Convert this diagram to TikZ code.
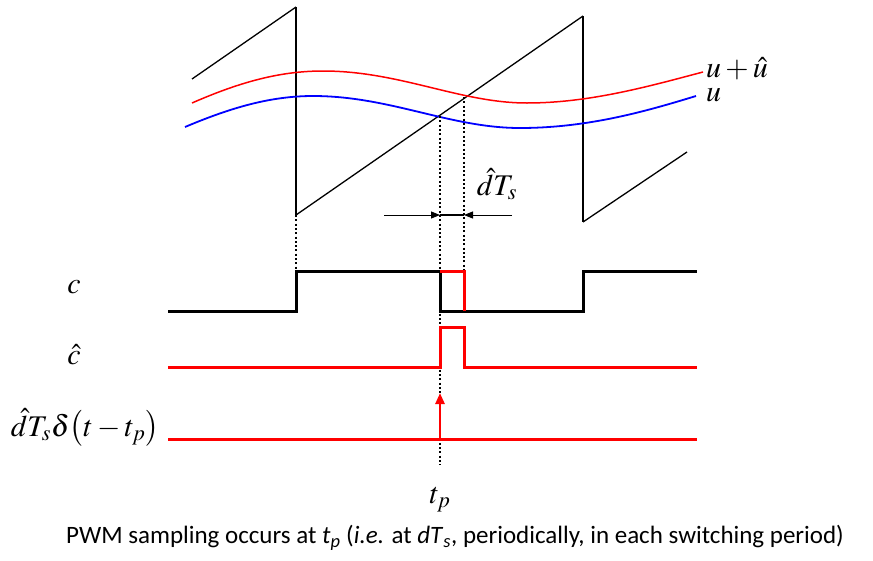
\documentclass[tikz,border=0pt]{standalone}
\usepackage{mathptmx}
\usepackage{fontspec}
\newfontfamily\capfont{Carlito}
\usetikzlibrary{arrows.meta}
\begin{document}
\begin{tikzpicture}[x=1pt, y=-1pt]
  \tikzset{ramp/.style={black, line width=1.3pt},
    drop/.style={black, line width=2.8pt},
    wave/.style={line width=3pt, line join=miter},
    guide/.style={line width=2pt, dash pattern=on 2pt off 2.3pt},
    lbl/.style={font=\fontsize{30}{34}\selectfont, inner sep=0pt}}
  \useasboundingbox (0,0) rectangle (873,560);
  % sampling instants
  \coordinate (t0) at (296,0);
  \coordinate (tp) at (440,0);
  \coordinate (tq) at (464,0);
  \coordinate (t1) at (583,0);
  % sawtooth carrier
  \draw[ramp] (192,79) -- (t0 |- 0,7);
  \draw[drop] (t0 |- 0,7) -- (t0 |- 0,215);
  \draw[ramp] (t0 |- 0,215) -- (t1 |- 0,16);
  \draw[drop] (t1 |- 0,16) -- (t1 |- 0,222);
  \draw[ramp] (t1 |- 0,222) -- (687,152);
  % control signals
  \draw[red, line width=1.5pt] (192,103) .. controls (240,82) and (280,71) .. (323,71)
    .. controls (400,71) and (460,103) .. (527,103)
    .. controls (590,103) and (650,86) .. (703,72);
  \draw[blue, line width=1.8pt] (185,127) .. controls (230,108) and (270,96) .. (313,96)
    .. controls (390,96) and (450,128) .. (520,128)
    .. controls (590,128) and (650,110) .. (696,96);
  \node[lbl, anchor=base west] (uhat) at (706,77) {$u+\hat{u}$};
  \node[lbl, anchor=base west] (u) at (706,101) {$u$};
  % guides
  \draw[guide] (t0 |- 0,215) -- (t0 |- 0,271);
  \draw[guide] (tp |- 0,116) -- (tp |- 0,465);
  \draw[guide] (tq |- 0,97) -- (tq |- 0,271);
  % width of the perturbation
  \coordinate (al) at (384,215);
  \coordinate (ar) at (512,215);
  \draw[line width=0.9pt, -{Triangle[length=9pt, width=7pt]}] (al) -- (tp |- al);
  \draw[line width=0.9pt, -{Triangle[length=9pt, width=7pt]}] (ar) -- (tq |- ar);
  \draw[line width=2.5pt] (tp |- al) -- (tq |- al);
  \node[lbl] (dts) at (497,184) {$\hat{d}T_s$};
  % switching function
  \node[lbl, anchor=base] (clbl) at (74,293) {$c$};
  \draw[wave] (168,311) -| (t0 |- 0,271) -| (tp |- 0,311) -| (t1 |- 0,271) -- (697,271);
  \draw[wave, red] (tp |- 0,271) -| (tq |- 0,311);
  % perturbation of c
  \node[lbl, anchor=base] (chat) at (74,364) {$\hat{c}$};
  \draw[wave, red] (168,367) -| (tp |- 0,327) -| (tq |- 0,367) -- (697,367);
  % impulse
  \node[lbl, anchor=base] (dlt) at (85,436) {$\hat{d}T_s\delta\bigl(t-t_p\bigr)$};
  \draw[wave, red] (168,439) -- (697,439);
  \draw[red, line width=2.5pt, -{Triangle[length=11pt, width=9pt]}] (tp |- 0,439) -- (tp |- 0,393);
  \node[lbl, anchor=base] (tplbl) at (440,503) {$t_p$};
  % caption
  \node[font=\capfont\fontsize{25}{29}\selectfont, inner sep=0pt] (cap) at (455,538)
    {PWM sampling occurs at \textit{t}\textsubscript{\textit{p}} (\textit{i.e.} at \textit{dT}\textsubscript{\textit{s}}, periodically, in each switching period)};
\end{tikzpicture}
\end{document}
